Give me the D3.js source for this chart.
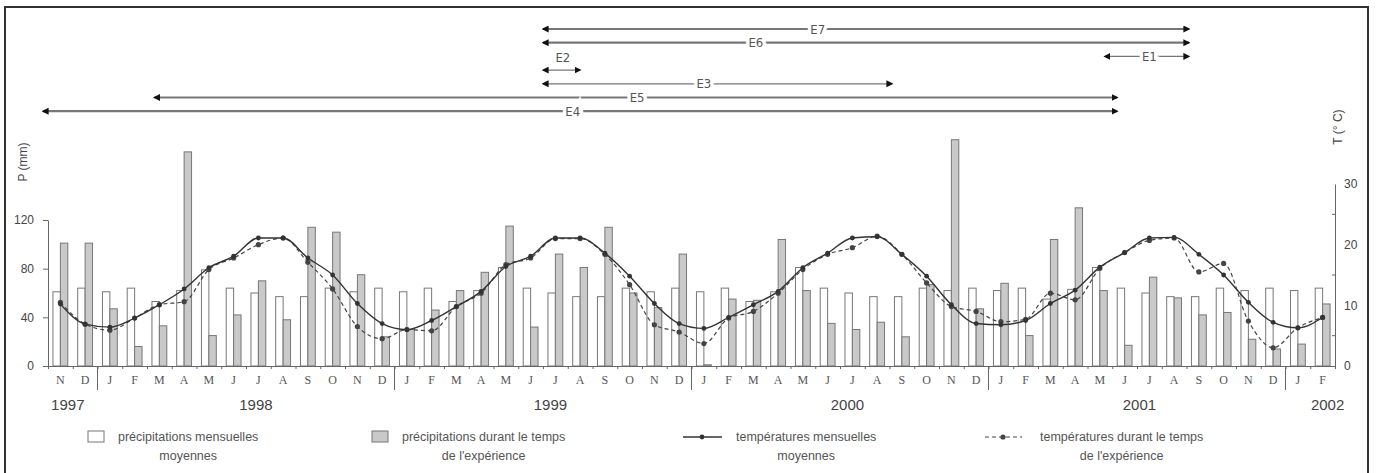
<!DOCTYPE html>
<html>
<head>
<meta charset="utf-8">
<script src="https://cdn.jsdelivr.net/npm/d3@7"></script>
<style>
  body { margin: 0; background: #fff; }
  text { font-family: "Liberation Sans", Arial, sans-serif; fill: #444; }
  .month { font-family: "Liberation Serif", serif; font-size: 12px; fill: #555; }
  .year { font-size: 15px; fill: #444; }
  .legend text { font-size: 12.5px; fill: #555; }
  .exp { font-family: "Liberation Sans Narrow", "DejaVu Sans Condensed", sans-serif; font-size: 13px; fill: #555; }
</style>
</head>
<body>
<div id="chart"></div>
<script>
// months from Nov 1997 to Feb 2002
const months = ["N","D",
  "J","F","M","A","M","J","J","A","S","O","N","D",
  "J","F","M","A","M","J","J","A","S","O","N","D",
  "J","F","M","A","M","J","J","A","S","O","N","D",
  "J","F","M","A","M","J","J","A","S","O","N","D",
  "J","F"];
const years = ["1997","1998","1999","2000","2001","2002"];
const yearAt = [0.8, 8.4, 20.3, 32.3, 44.1, 51.7];   // in months
const yearBreaks = [2, 14, 26, 38, 50];

// precipitations mensuelles moyennes (mm)
const precipMean = [61, 64,
  61, 64, 53, 62, 79, 64, 60, 57, 57, 64, 61, 64,
  61, 64, 53, 62, 81, 64, 60, 57, 57, 64, 61, 64,
  61, 64, 53, 61, 81, 64, 60, 57, 57, 64, 62, 64,
  62, 64, 55, 63, 81, 64, 60, 57, 57, 64, 62, 64,
  62, 64];
// precipitations durant le temps de l'experience (mm)
const precipExp = [101, 101,
  47, 16, 33, 176, 25, 42, 70, 38, 114, 110, 75, 24,
  30, 46, 62, 77, 115, 32, 92, 81, 114, 60, 48, 92,
  1, 55, 54, 104, 62, 35, 30, 36, 24, 67, 186, 47,
  68, 25, 104, 130, 62, 17, 73, 56, 42, 44, 22, 14,
  18, 51];
// temperatures mensuelles moyennes (deg C)
const tempMean = [10.2, 6.9,
  6.4, 7.9, 10.1, 12.7, 16.2, 18.1, 21.1, 21.1, 17.8, 15.0, 10.3, 7.0,
  6.0, 7.5, 9.8, 12.3, 16.4, 18.1, 21.1, 21.1, 18.6, 14.8, 10.3, 7.0,
  6.2, 8.0, 10.1, 12.3, 16.2, 18.6, 21.1, 21.3, 18.4, 14.8, 10.1, 7.0,
  6.8, 7.5, 10.3, 12.5, 16.3, 18.7, 21.1, 21.2, 18.4, 15.0, 10.5, 7.2,
  6.3, 8.0];
// temperatures durant le temps de l'experience (deg C)
const tempExp = [10.5, 6.9,
  5.9, 7.9, 10.1, 10.6, 15.9, 17.8, 20.0, 21.1, 17.1, 12.7, 6.5, 4.5,
  6.0, 5.8, 9.8, 12.0, 16.7, 17.8, 21.0, 21.0, 18.4, 13.4, 6.8, 5.6,
  3.7, 7.9, 9.0, 12.0, 15.9, 18.4, 19.5, 21.4, 18.4, 13.7, 9.8, 9.0,
  7.3, 7.7, 12.0, 10.9, 16.1, 18.7, 20.7, 21.1, 15.5, 16.9, 7.4, 3.0,
  6.3, 8.0];

// experiment periods (in months from Nov 1997)
const expNames = ["E7", "E6", "E1", "E2", "E3", "E5", "E4"];
const expStart = [20, 20, 42.7, 20, 20, 4.3, -0.2];
const expEnd = [46.1, 46.1, 46.1, 21.5, 34.1, 43.2, 43.2];
const expLabelAt = [31.1, 28.6, 44.5, 20.8, 26.5, 23.8, 21.2];

const pTicks = [0, 40, 80, 120];
const tTicks = [0, 10, 20, 30];

const W = 1378, H = 473;
const left = 48, right = 1335, base = 366;

const svg = d3.select("#chart").append("svg")
  .attr("width", W).attr("height", H);

// frame
svg.append("rect")
  .attr("x", 5).attr("y", 7).attr("width", 1363).attr("height", 480)
  .attr("fill", "none").attr("stroke", "#333").attr("stroke-width", 2);

const idx = d3.range(months.length);
const xb = d3.scaleBand().domain(idx).range([left, right])
  .paddingInner(0.4).paddingOuter(0.2);
const xm = d3.scaleLinear().domain([0, months.length]).range([left, right]);
const yP = d3.scaleLinear().domain([0, 120]).range([base, 220]);
const yT = d3.scaleLinear().domain([0, 30]).range([base, 184]);
const cx = i => xb(i) + xb.bandwidth() / 2;
const bw = xb.bandwidth() / 2;

// bars
svg.append("g").selectAll("rect").data(precipMean).join("rect")
  .attr("x", (d, i) => xb(i)).attr("width", bw)
  .attr("y", d => yP(d)).attr("height", d => base - yP(d))
  .attr("fill", "#fff").attr("stroke", "#777").attr("stroke-width", 1);
svg.append("g").selectAll("rect").data(precipExp).join("rect")
  .attr("x", (d, i) => xb(i) + bw).attr("width", bw)
  .attr("y", d => yP(d)).attr("height", d => base - yP(d))
  .attr("fill", "#c9c9c9").attr("stroke", "#777").attr("stroke-width", 1);

// temperature lines
const line = d3.line().x((d, i) => cx(i)).y(d => yT(d)).curve(d3.curveMonotoneX);
svg.append("path").datum(tempExp).attr("d", line)
  .attr("fill", "none").attr("stroke", "#444").attr("stroke-width", 1.2)
  .attr("stroke-dasharray", "4,3");
svg.append("path").datum(tempMean).attr("d", line)
  .attr("fill", "none").attr("stroke", "#333").attr("stroke-width", 1.4);
svg.append("g").selectAll("circle").data(tempExp).join("circle")
  .attr("cx", (d, i) => cx(i)).attr("cy", d => yT(d)).attr("r", 2.6)
  .attr("fill", "#444");
svg.append("g").selectAll("circle").data(tempMean).join("circle")
  .attr("cx", (d, i) => cx(i)).attr("cy", d => yT(d)).attr("r", 2.4)
  .attr("fill", "#333");

// left axis
const gL = svg.append("g").attr("transform", `translate(${left},0)`)
  .call(d3.axisLeft(yP).tickValues(pTicks).tickSize(5).tickPadding(9).tickSizeOuter(0));
gL.selectAll("text").style("font-size", "12px").attr("fill", "#444");
gL.selectAll("path,line").attr("stroke", "#666");
svg.append("text").attr("transform", "translate(27,162) rotate(-90)")
  .attr("text-anchor", "middle").style("font-size", "12px").text("P (mm)");

// right axis
const gR = svg.append("g").attr("transform", `translate(${right},0)`)
  .call(d3.axisRight(yT).tickValues(tTicks).tickSize(0).tickPadding(9).tickSizeOuter(0));
gR.selectAll("text").style("font-size", "12px").attr("fill", "#444");
gR.selectAll("path").attr("stroke", "#666");
gR.selectAll(".minor").data([5, 15, 25]).join("line")
  .attr("x1", -3).attr("x2", 0).attr("y1", d => yT(d)).attr("y2", d => yT(d))
  .attr("stroke", "#666");
svg.append("text").attr("transform", "translate(1342,127) rotate(-90)")
  .attr("text-anchor", "middle").style("font-size", "12px").text("T (° C)");

// bottom axis
const gB = svg.append("g").attr("transform", `translate(0,${base})`)
  .call(d3.axisBottom(xm).tickValues(d3.range(months.length + 1)).tickSize(3)
    .tickFormat("").tickSizeOuter(0));
gB.selectAll("path,line").attr("stroke", "#666");
svg.append("g").selectAll("line").data(yearBreaks).join("line")
  .attr("x1", d => xm(d)).attr("x2", d => xm(d))
  .attr("y1", base).attr("y2", base + 24).attr("stroke", "#666");
svg.append("g").selectAll("text").data(months).join("text")
  .attr("class", "month").attr("x", (d, i) => cx(i)).attr("y", base + 18)
  .attr("text-anchor", "middle").text(d => d);
svg.append("g").selectAll("text").data(years).join("text")
  .attr("class", "year").attr("x", (d, i) => xm(yearAt[i])).attr("y", base + 44)
  .attr("text-anchor", "middle").text(d => d);

// experiment arrows
const defs = svg.append("defs");
defs.append("marker").attr("id", "ah").attr("viewBox", "0 0 10 10")
  .attr("refX", 8).attr("refY", 5).attr("markerWidth", 7).attr("markerHeight", 7)
  .attr("markerUnits", "userSpaceOnUse").attr("orient", "auto-start-reverse")
  .append("path").attr("d", "M0,0 L10,5 L0,10 z").attr("fill", "#111");

const rowY = r => 29 + 13.7 * r;
const ga = svg.append("g");
expNames.forEach((name, r) => {
  ga.append("line")
    .attr("x1", xm(expStart[r])).attr("x2", xm(expEnd[r]))
    .attr("y1", rowY(r)).attr("y2", rowY(r))
    .attr("stroke", "#777").attr("stroke-width", name === "E2" || name === "E1" || name === "E3" ? 1.3 : 2.2)
    .attr("marker-start", "url(#ah)").attr("marker-end", "url(#ah)");
  const above = name === "E2";
  ga.append("text").attr("class", "exp")
    .attr("x", xm(expLabelAt[r])).attr("y", above ? rowY(r) - 8 : rowY(r) + 4.5)
    .attr("text-anchor", "middle")
    .attr("stroke", "#fff").attr("stroke-width", 7).attr("paint-order", "stroke")
    .text(name);
});

// legend
const lg = svg.append("g").attr("class", "legend");
lg.append("rect").attr("x", 88).attr("y", 431).attr("width", 16).attr("height", 11)
  .attr("fill", "#fff").attr("stroke", "#777");
lg.append("rect").attr("x", 372).attr("y", 431).attr("width", 16).attr("height", 11)
  .attr("fill", "#c9c9c9").attr("stroke", "#777");
lg.append("line").attr("x1", 683).attr("x2", 722).attr("y1", 437).attr("y2", 437)
  .attr("stroke", "#333").attr("stroke-width", 1.4);
lg.append("circle").attr("cx", 702).attr("cy", 437).attr("r", 2.4).attr("fill", "#333");
lg.append("line").attr("x1", 985).attr("x2", 1022).attr("y1", 437).attr("y2", 437)
  .attr("stroke", "#444").attr("stroke-width", 1.2).attr("stroke-dasharray", "4,3");
lg.append("circle").attr("cx", 1003).attr("cy", 437).attr("r", 2.6).attr("fill", "#444");

const legendText = [
  { x: 118, l1: "précipitations mensuelles", l2: "moyennes" },
  { x: 402, l1: "précipitations durant le temps", l2: "de l'expérience" },
  { x: 736, l1: "températures mensuelles", l2: "moyennes" },
  { x: 1040, l1: "températures durant le temps", l2: "de l'expérience" }
];
legendText.forEach(t => {
  const a = lg.append("text").attr("x", t.x).attr("y", 441).text(t.l1);
  const w = a.node().getComputedTextLength();
  lg.append("text").attr("x", t.x + w / 2).attr("y", 460)
    .attr("text-anchor", "middle").text(t.l2);
});
</script>
</body>
</html>
